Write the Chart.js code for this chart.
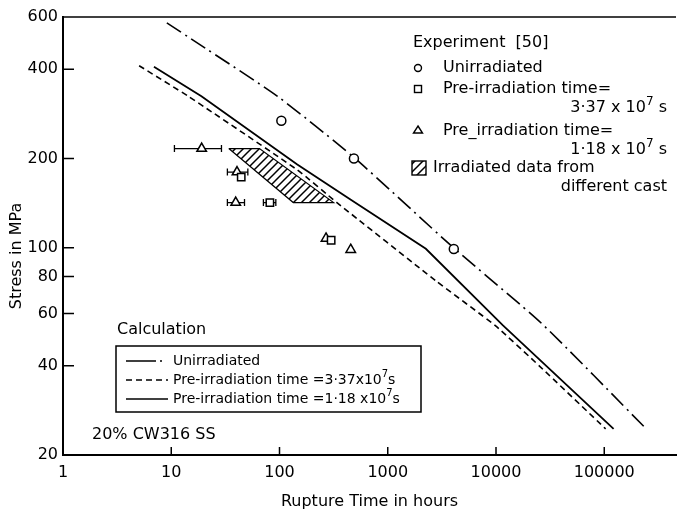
<!DOCTYPE html>
<html>
<head>
<meta charset="utf-8">
<script src="https://cdn.jsdelivr.net/npm/chart.js@4.4.0/dist/chart.umd.min.js"></script>
<style>
  html, body { margin: 0; padding: 0; background: #fff; }
</style>
</head>
<body>
<canvas id="rupture" width="683" height="512"></canvas>
<script>
// axis ticks
const xTicks = [1, 10, 100, 1000, 10000, 100000];
const yTicks = [20, 40, 60, 80, 100, 200, 400, 600];

// calculation curves (rupture time in hours, stress in MPa)
const unirrCalcT = [9.1, 17.8, 95.9, 484, 4048, 26300, 239000];
const unirrCalcS = [573, 488, 324, 202, 100, 55.6, 24.7];
const pre337T = [5.05, 14.4, 146, 339, 2773, 9796, 25200, 103000];
const pre337S = [411, 324, 183, 142, 77.4, 54.7, 39.9, 24.5];
const pre118T = [6.92, 19.0, 146, 445, 2249, 11590, 122000];
const pre118S = [408, 324, 191, 146, 99.2, 54.7, 24.5];

// experiment [50]
const circT = [104, 487, 4075];
const circS = [268, 200, 99];
const sqT = [44.3, 81.5, 300];
const sqS = [173, 142, 106];
const sqLo = [null, 71, null];
const sqHi = [null, 92.5, null];
const triT = [19.1, 40.5, 39.4, 269, 455];
const triS = [216, 180, 142, 107.5, 98.5];
const triLo = [10.7, 33, 33, null, null];
const triHi = [29.1, 51, 47.5, null, null];

// irradiated data from different cast (outline of the band)
const bandT = [34, 65.3, 316, 134, 34];
const bandS = [216, 216, 142, 142, 216];

const FONT = "'DejaVu Sans', sans-serif";

function pts(t, s) {
    return t.map(function (v, i) { return { x: v, y: s[i] }; });
}

function hatch(ctx) {
    const c = document.createElement("canvas");
    c.width = 8;
    c.height = 8;
    const p = c.getContext("2d");
    p.strokeStyle = "#000";
    p.lineWidth = 1.5;
    p.beginPath();
    p.moveTo(0, 8); p.lineTo(8, 0);
    p.moveTo(-2, 2); p.lineTo(2, -2);
    p.moveTo(6, 10); p.lineTo(10, 6);
    p.stroke();
    return ctx.createPattern(c, "repeat");
}

// text with a superscript piece, parts = [[text, isSup], ...]
function rich(ctx, parts, x, y, align, size) {
    var w = 0;
    parts.forEach(function (p) {
        ctx.font = (p[1] ? Math.round(size * 0.72) : size) + "px " + FONT;
        w += ctx.measureText(p[0]).width;
    });
    var cx = align === "right" ? x - w : x;
    ctx.textAlign = "left";
    parts.forEach(function (p) {
        ctx.font = (p[1] ? Math.round(size * 0.72) : size) + "px " + FONT;
        ctx.fillText(p[0], cx, p[1] ? y - size * 0.38 : y);
        cx += ctx.measureText(p[0]).width;
    });
}

function errorBars(chart, T, S, lo, hi) {
    const ctx = chart.ctx, xs = chart.scales.x, ys = chart.scales.y;
    T.forEach(function (t, i) {
        if (lo[i] == null) return;
        const py = ys.getPixelForValue(S[i]);
        const x1 = xs.getPixelForValue(lo[i]), x2 = xs.getPixelForValue(hi[i]);
        ctx.beginPath();
        ctx.moveTo(x1, py); ctx.lineTo(x2, py);
        ctx.moveTo(x1, py - 3.5); ctx.lineTo(x1, py + 3.5);
        ctx.moveTo(x2, py - 3.5); ctx.lineTo(x2, py + 3.5);
        ctx.stroke();
    });
}

const decorations = {
    id: "decorations",
    beforeDatasetsDraw(chart) {
        const ctx = chart.ctx;
        ctx.save();
        ctx.strokeStyle = "#000";
        ctx.lineWidth = 1.3;
        errorBars(chart, triT, triS, triLo, triHi);
        errorBars(chart, sqT, sqS, sqLo, sqHi);
        ctx.restore();
    },
    afterDraw(chart) {
        const ctx = chart.ctx, a = chart.chartArea;
        const xs = chart.scales.x, ys = chart.scales.y;
        ctx.save();
        ctx.strokeStyle = "#000";
        ctx.fillStyle = "#000";

        // top frame line
        ctx.lineWidth = 1.5;
        ctx.beginPath();
        ctx.moveTo(a.left, a.top); ctx.lineTo(a.right, a.top);
        ctx.stroke();

        // inward tick marks
        ctx.beginPath();
        xTicks.slice(1).forEach(function (t) {
            const px = xs.getPixelForValue(t);
            ctx.moveTo(px, a.bottom); ctx.lineTo(px, a.bottom - 8);
        });
        yTicks.slice(1, -1).forEach(function (s) {
            const py = ys.getPixelForValue(s);
            ctx.moveTo(a.left, py); ctx.lineTo(a.left + 11, py);
        });
        ctx.stroke();

        // y axis title
        ctx.save();
        ctx.translate(17, 256);
        ctx.rotate(-Math.PI / 2);
        ctx.textAlign = "center";
        ctx.textBaseline = "middle";
        ctx.font = "16px " + FONT;
        ctx.fillText("Stress in MPa", 0, 0);
        ctx.restore();

        // experiment legend
        ctx.textBaseline = "middle";
        ctx.textAlign = "left";
        ctx.font = "16px " + FONT;
        ctx.fillText("Experiment  [50]", 413, 43);
        ctx.fillText("Unirradiated", 443, 68);
        ctx.fillText("Pre-irradiation time=", 443, 89);
        rich(ctx, [["3·37 x 10", false], ["7", true], [" s", false]], 667, 108, "right", 16);
        ctx.font = "16px " + FONT;
        ctx.fillText("Pre_irradiation time=", 443, 131);
        rich(ctx, [["1·18 x 10", false], ["7", true], [" s", false]], 667, 150, "right", 16);
        ctx.font = "16px " + FONT;
        ctx.fillText("Irradiated data from", 433, 168);
        ctx.textAlign = "right";
        ctx.fillText("different cast", 667, 187);

        ctx.lineWidth = 1.4;
        ctx.beginPath();
        ctx.arc(418, 68, 3.5, 0, Math.PI * 2);
        ctx.stroke();
        ctx.strokeRect(414.5, 85.5, 7, 7);
        ctx.beginPath();
        ctx.moveTo(418, 126); ctx.lineTo(422.5, 133); ctx.lineTo(413.5, 133); ctx.closePath();
        ctx.stroke();
        ctx.fillStyle = chart.data.datasets[6].backgroundColor;
        ctx.fillRect(412, 161, 14, 14);
        ctx.strokeRect(412, 161, 14, 14);
        ctx.fillStyle = "#000";

        // calculation legend
        ctx.textAlign = "left";
        ctx.font = "16px " + FONT;
        ctx.fillText("Calculation", 117, 330);
        ctx.lineWidth = 1.5;
        ctx.strokeRect(116, 346, 305, 66);
        const rows = [
            { y: 361, dash: [30, 4, 2, 8], parts: [["Unirradiated", false]] },
            { y: 380, dash: [6, 4], parts: [["Pre-irradiation time =3·37x10", false], ["7", true], ["s", false]] },
            { y: 399, dash: [], parts: [["Pre-irradiation time =1·18 x10", false], ["7", true], ["s", false]] }
        ];
        rows.forEach(function (r) {
            ctx.setLineDash(r.dash);
            ctx.lineWidth = 1.6;
            ctx.beginPath();
            ctx.moveTo(126, r.y); ctx.lineTo(168, r.y);
            ctx.stroke();
            ctx.setLineDash([]);
            rich(ctx, r.parts, 173, r.y, "left", 14);
        });

        ctx.font = "16px " + FONT;
        ctx.fillText("20% CW316 SS", 92, 435);
        ctx.restore();
    }
};

function createChart() {
    const ctx = document.getElementById("rupture").getContext("2d");
    const pattern = hatch(ctx);

    new Chart(ctx, {
        type: "scatter",
        data: {
            datasets: [
                {
                    label: "Unirradiated",
                    data: pts(circT, circS),
                    pointStyle: "circle",
                    pointRadius: 4.5,
                    pointBackgroundColor: "#fff",
                    pointBorderColor: "#000",
                    pointBorderWidth: 1.5
                },
                {
                    label: "Pre-irradiation time = 3.37e7 s",
                    data: pts(sqT, sqS),
                    pointStyle: "rect",
                    pointRadius: 5.2,
                    pointBackgroundColor: "#fff",
                    pointBorderColor: "#000",
                    pointBorderWidth: 1.5
                },
                {
                    label: "Pre-irradiation time = 1.18e7 s",
                    data: pts(triT, triS),
                    pointStyle: "triangle",
                    pointRadius: 5.5,
                    pointBackgroundColor: "#fff",
                    pointBorderColor: "#000",
                    pointBorderWidth: 1.5
                },
                {
                    label: "Calc unirradiated",
                    data: pts(unirrCalcT, unirrCalcS),
                    showLine: true,
                    pointRadius: 0,
                    borderColor: "#000",
                    borderWidth: 1.6,
                    borderDash: [17, 5, 2, 5],
                    tension: 0.2
                },
                {
                    label: "Calc 3.37e7 s",
                    data: pts(pre337T, pre337S),
                    showLine: true,
                    pointRadius: 0,
                    borderColor: "#000",
                    borderWidth: 1.6,
                    borderDash: [6, 4],
                    tension: 0.15
                },
                {
                    label: "Calc 1.18e7 s",
                    data: pts(pre118T, pre118S),
                    showLine: true,
                    pointRadius: 0,
                    borderColor: "#000",
                    borderWidth: 1.8,
                    tension: 0
                },
                {
                    label: "Irradiated data from different cast",
                    data: pts(bandT, bandS),
                    showLine: true,
                    pointRadius: 0,
                    borderColor: "#000",
                    borderWidth: 1.2,
                    backgroundColor: pattern,
                    fill: "shape",
                    tension: 0
                }
            ]
        },
        options: {
            responsive: false,
            animation: false,
            devicePixelRatio: 1,
            layout: { padding: { top: 17, right: 0, left: 0, bottom: 0 } },
            plugins: {
                legend: { display: false },
                tooltip: { enabled: false }
            },
            scales: {
                x: {
                    type: "logarithmic",
                    position: "bottom",
                    min: 1,
                    max: 460000,
                    afterBuildTicks: function (scale) {
                        scale.ticks = xTicks.map(function (v) { return { value: v }; });
                    },
                    afterFit: function (scale) { scale.height = 57; },
                    ticks: {
                        autoSkip: false,
                        maxRotation: 0,
                        padding: 8,
                        color: "#000",
                        font: { family: FONT, size: 16 },
                        callback: function (v) { return String(v); }
                    },
                    grid: { display: false, drawTicks: false },
                    border: { display: true, color: "#000", width: 2 },
                    title: {
                        display: true,
                        text: "Rupture Time in hours",
                        color: "#000",
                        font: { family: FONT, size: 16 },
                        padding: { top: 10, bottom: 1 }
                    }
                },
                y: {
                    type: "logarithmic",
                    min: 20,
                    max: 600,
                    afterBuildTicks: function (scale) {
                        scale.ticks = yTicks.map(function (v) { return { value: v }; });
                    },
                    afterFit: function (scale) { scale.width = 63; },
                    ticks: {
                        autoSkip: false,
                        padding: 5,
                        color: "#000",
                        font: { family: FONT, size: 16 },
                        callback: function (v) { return String(v); }
                    },
                    grid: { display: false, drawTicks: false },
                    border: { display: true, color: "#000", width: 2 }
                }
            }
        },
        plugins: [decorations]
    });
}

createChart();
</script>
</body>
</html>
